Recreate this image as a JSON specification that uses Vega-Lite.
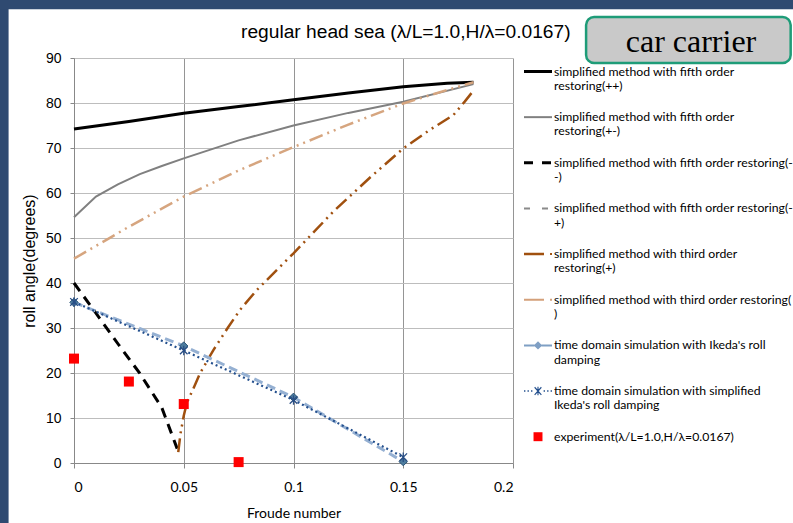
{
  "$schema": "https://vega.github.io/schema/vega-lite/v6.json",
  "width": 439,
  "height": 405,
  "autosize": {"type": "none"},
  "padding": {"left": 74, "top": 58, "right": 280, "bottom": 60},
  "background": "white",
  "config": {"view": {"stroke": null}},
  "title": {"text": "regular head sea (λ/L=1.0,H/λ=0.0167)", "anchor": "start", "frame": "group", "dx": 167, "dy": 49, "font": "Liberation Sans", "fontSize": 19.2, "fontWeight": "normal", "color": "#000", "offset": 7},
  "data": {"values": [
    {"s": "A", "fn": 0, "roll": 74.2}, {"s": "A", "fn": 0.025, "roll": 75.9}, {"s": "A", "fn": 0.05, "roll": 77.7}, {"s": "A", "fn": 0.075, "roll": 79.2}, {"s": "A", "fn": 0.1, "roll": 80.7}, {"s": "A", "fn": 0.125, "roll": 82.2}, {"s": "A", "fn": 0.15, "roll": 83.6}, {"s": "A", "fn": 0.17, "roll": 84.4}, {"s": "A", "fn": 0.182, "roll": 84.6},
    {"s": "B", "fn": 0, "roll": 54.6}, {"s": "B", "fn": 0.01, "roll": 59.2}, {"s": "B", "fn": 0.02, "roll": 61.9}, {"s": "B", "fn": 0.03, "roll": 64.2}, {"s": "B", "fn": 0.04, "roll": 66.0}, {"s": "B", "fn": 0.05, "roll": 67.7}, {"s": "B", "fn": 0.075, "roll": 71.7}, {"s": "B", "fn": 0.1, "roll": 75.0}, {"s": "B", "fn": 0.125, "roll": 77.8}, {"s": "B", "fn": 0.15, "roll": 80.3}, {"s": "B", "fn": 0.182, "roll": 84.2},
    {"s": "C", "fn": 0, "roll": 40.0}, {"s": "C", "fn": 0.01, "roll": 33.3}, {"s": "C", "fn": 0.02, "roll": 26.5}, {"s": "C", "fn": 0.03, "roll": 19.9}, {"s": "C", "fn": 0.04, "roll": 12.3}, {"s": "C", "fn": 0.047, "roll": 3.2},
    {"s": "E", "fn": 0.0475, "roll": 2.4}, {"s": "E", "fn": 0.0485, "roll": 6.5}, {"s": "E", "fn": 0.05, "roll": 10.5}, {"s": "E", "fn": 0.0515, "roll": 13.5}, {"s": "E", "fn": 0.055, "roll": 17.2}, {"s": "E", "fn": 0.0575, "roll": 20.0}, {"s": "E", "fn": 0.0635, "roll": 25.1}, {"s": "E", "fn": 0.07, "roll": 30.0}, {"s": "E", "fn": 0.0756, "roll": 34.0}, {"s": "E", "fn": 0.0832, "roll": 38.4}, {"s": "E", "fn": 0.1, "roll": 46.6}, {"s": "E", "fn": 0.118, "roll": 55.8}, {"s": "E", "fn": 0.135, "roll": 63.5}, {"s": "E", "fn": 0.15, "roll": 69.9}, {"s": "E", "fn": 0.162, "roll": 74.0}, {"s": "E", "fn": 0.1728, "roll": 77.3}, {"s": "E", "fn": 0.178, "roll": 80.3}, {"s": "E", "fn": 0.1824, "roll": 83.0},
    {"s": "F", "fn": 0, "roll": 45.4}, {"s": "F", "fn": 0.025, "roll": 52.5}, {"s": "F", "fn": 0.05, "roll": 59.2}, {"s": "F", "fn": 0.075, "roll": 65.0}, {"s": "F", "fn": 0.1, "roll": 70.2}, {"s": "F", "fn": 0.125, "roll": 75.2}, {"s": "F", "fn": 0.15, "roll": 79.9}, {"s": "F", "fn": 0.17, "roll": 82.9}, {"s": "F", "fn": 0.182, "roll": 84.6},
    {"s": "G", "fn": 0, "roll": 35.7}, {"s": "G", "fn": 0.05, "roll": 26.0}, {"s": "G", "fn": 0.1, "roll": 14.6}, {"s": "G", "fn": 0.15, "roll": 0.3},
    {"s": "H", "fn": 0, "roll": 35.8}, {"s": "H", "fn": 0.05, "roll": 25.0}, {"s": "H", "fn": 0.1, "roll": 14.0}, {"s": "H", "fn": 0.15, "roll": 1.3},
    {"s": "I", "fn": 0, "roll": 23.2}, {"s": "I", "fn": 0.025, "roll": 18.1}, {"s": "I", "fn": 0.05, "roll": 13.1}, {"s": "I", "fn": 0.075, "roll": 0.2}
  ]},
  "encoding": {
    "x": {"field": "fn", "type": "quantitative", "scale": {"domain": [0, 0.2], "nice": false, "zero": false},
      "axis": {"title": "Froude number", "values": [0, 0.05, 0.1, 0.15, 0.2], "format": "~g", "labelFont": "Lato", "labelFontSize": 14, "labelColor": "#000", "labelPadding": 12, "tickSize": 5, "tickColor": "#888", "domainColor": "#888", "gridColor": "#959595", "titleFont": "Lato", "titleFontSize": 14, "titleFontWeight": "normal", "titleColor": "#000", "titlePadding": 12}},
    "y": {"field": "roll", "type": "quantitative", "scale": {"domain": [0, 90], "nice": false},
      "axis": {"title": "roll angle(degrees)", "values": [0, 10, 20, 30, 40, 50, 60, 70, 80, 90], "labelFont": "Liberation Sans", "labelFontSize": 14, "labelColor": "#000", "labelPadding": 9, "tickSize": 4, "tickColor": "#888", "domainColor": "#888", "gridColor": "#bdbdbd", "titleFont": "Liberation Sans", "titleFontSize": 16, "titleFontWeight": "normal", "titleColor": "#000", "titlePadding": 8}}
  },
  "layer": [
    {"transform": [{"filter": "datum.s == 'I' && datum.fn == 0"}], "mark": {"type": "rect", "color": "#2f4a71"},
     "encoding": {"x": {"datum": -0.05, "type": "quantitative"}, "x2": {"datum": -0.0298}, "y": {"datum": -20, "type": "quantitative"}, "y2": {"datum": 102.9}}},
    {"transform": [{"filter": "datum.s == 'I' && datum.fn == 0"}], "mark": {"type": "rect", "color": "#2f4a71"},
     "encoding": {"x": {"datum": -0.05, "type": "quantitative"}, "x2": {"datum": 0.35}, "y": {"datum": 100.85, "type": "quantitative"}, "y2": {"datum": 102.9}}},
    {"transform": [{"filter": "datum.s == 'A'"}], "mark": {"type": "line", "color": "#000", "strokeWidth": 3}},
    {"transform": [{"filter": "datum.s == 'B'"}], "mark": {"type": "line", "color": "#808080", "strokeWidth": 2}},
    {"transform": [{"filter": "datum.s == 'C'"}], "mark": {"type": "line", "color": "#000", "strokeWidth": 3, "strokeDash": [10, 7]}},
    {"transform": [{"filter": "datum.s == 'E'"}], "mark": {"type": "line", "color": "#a0500f", "strokeWidth": 2.5, "strokeDash": [14, 5, 2, 5, 2, 5]}},
    {"transform": [{"filter": "datum.s == 'F'"}], "mark": {"type": "line", "color": "#d6a57f", "strokeWidth": 2.5, "strokeDash": [14, 5, 2, 5, 2, 5]}},
    {"transform": [{"filter": "datum.s == 'G'"}], "mark": {"type": "line", "color": "#95b0d2", "strokeWidth": 3, "strokeDash": [9, 5]}},
    {"transform": [{"filter": "datum.s == 'G'"}], "mark": {"type": "point", "shape": "diamond", "size": 70, "filled": true, "fill": "#4d7c9e", "stroke": "#2c5577", "strokeWidth": 1, "opacity": 1}},
    {"transform": [{"filter": "datum.s == 'H'"}], "mark": {"type": "line", "color": "#24508e", "strokeWidth": 2.2, "strokeDash": [2, 3]}},
    {"transform": [{"filter": "datum.s == 'H'"}], "mark": {"type": "point", "shape": "M0,-1L0,1M-0.8,-0.8L0.8,0.8M-0.8,0.8L0.8,-0.8", "size": 90, "filled": false, "stroke": "#2a4f85", "strokeWidth": 1.3, "opacity": 1}},
    {"transform": [{"filter": "datum.s == 'I'"}], "mark": {"type": "point", "shape": "square", "size": 100, "filled": true, "color": "#ff0000", "opacity": 1}},
    {"data": {"values": [
      {"series": "simplified method with fifth order|restoring(++)"},
      {"series": "simplified method with fifth order|restoring(+-)"},
      {"series": "simplified method with fifth order restoring(-|-)"},
      {"series": "simplified method with fifth order restoring(-|+)"},
      {"series": "simplified method with third order|restoring(+)"},
      {"series": "simplified method with third order restoring(|)"},
      {"series": "time domain simulation with Ikeda's roll|damping"},
      {"series": "time domain simulation with simplified|Ikeda's roll damping"},
      {"series": "experiment(λ/L=1.0,H/λ=0.0167)"}
     ]},
     "mark": {"type": "point", "filled": true, "opacity": 1},
     "encoding": {
       "color": {"field": "series", "type": "nominal",
         "scale": {"domain": [
           "simplified method with fifth order|restoring(++)",
           "simplified method with fifth order|restoring(+-)",
           "simplified method with fifth order restoring(-|-)",
           "simplified method with fifth order restoring(-|+)",
           "simplified method with third order|restoring(+)",
           "simplified method with third order restoring(|)",
           "time domain simulation with Ikeda's roll|damping",
           "time domain simulation with simplified|Ikeda's roll damping",
           "experiment(λ/L=1.0,H/λ=0.0167)"],
           "range": ["#000000", "#808080", "#000000", "#8a8a8a", "#a0500f", "#d4a07a", "#7f9fc4", "#24508e", "#ff0000"]},
         "legend": {"orient": "none", "legendX": 450, "legendY": -0.5, "title": null, "symbolSize": 784, "symbolStrokeWidth": 0, "labelFont": "Lato", "labelFontSize": 12.25, "labelColor": "#000", "labelOffset": 2, "labelLimit": 0, "rowPadding": 10.65, "padding": 0, "labelExpr": "split(datum.label, '|')", "encode": {"labels": {"update": {"lineHeight": {"value": 16.5}}}}}},
       "shape": {"field": "series", "type": "nominal",
         "scale": {"domain": [
           "simplified method with fifth order|restoring(++)",
           "simplified method with fifth order|restoring(+-)",
           "simplified method with fifth order restoring(-|-)",
           "simplified method with fifth order restoring(-|+)",
           "simplified method with third order|restoring(+)",
           "simplified method with third order restoring(|)",
           "time domain simulation with Ikeda's roll|damping",
           "time domain simulation with simplified|Ikeda's roll damping",
           "experiment(λ/L=1.0,H/λ=0.0167)"],
           "range": [
             "M-1,-0.107H1V0.107H-1Z",
             "M-1,-0.071H1V0.071H-1Z",
             "M-1,-0.107H-0.357V0.107H-1ZM0.286,-0.107H0.929V0.107H0.286Z",
             "M-1,-0.071H-0.571V0.071H-1ZM0.286,-0.071H0.714V0.071H0.286Z",
             "M-1,-0.09H0.429V0.09H-1ZM0.86,-0.07H1V0.07H0.86Z",
             "M-1,-0.071H0.429V0.071H-1ZM0.86,-0.07H1V0.07H0.86Z",
             "M-1,-0.071H-0.25V0.071H-1ZM0.25,-0.071H1V0.071H0.25ZM0,-0.3L0.3,0L0,0.3L-0.3,0Z",
             "M-1,-0.05H-0.9V0.05H-1ZM-0.75,-0.05H-0.65V0.05H-0.75ZM-0.5,-0.05H-0.4V0.05H-0.5ZM0.4,-0.05H0.5V0.05H0.4ZM0.65,-0.05H0.75V0.05H0.65ZM0.9,-0.05H1V0.05H0.9ZM-0.04,-0.3H0.04V0.3H-0.04ZM-0.27,-0.24L-0.21,-0.3L0.27,0.24L0.21,0.3ZM0.21,-0.3L0.27,-0.24L-0.21,0.3L-0.27,0.24Z",
             "M-0.32,-0.32H0.32V0.32H-0.32Z"]},
         "legend": {"orient": "none", "legendX": 450, "legendY": -0.5, "title": null, "symbolSize": 784, "symbolStrokeWidth": 0, "labelFont": "Lato", "labelFontSize": 12.25, "labelColor": "#000", "labelOffset": 2, "labelLimit": 0, "rowPadding": 10.65, "padding": 0, "labelExpr": "split(datum.label, '|')", "encode": {"labels": {"update": {"lineHeight": {"value": 16.5}}}}}}
     }},
    {"transform": [{"filter": "datum.s == 'I' && datum.fn == 0"}], "mark": {"type": "rect", "fill": "#c9c9c9", "stroke": "#1e9c78", "strokeWidth": 2.5, "cornerRadius": 8},
     "encoding": {"x": {"datum": 0.2333, "type": "quantitative"}, "x2": {"datum": 0.3265}, "y": {"datum": 99.1, "type": "quantitative"}, "y2": {"datum": 88.9}}},
    {"transform": [{"filter": "datum.s == 'I' && datum.fn == 0"}], "mark": {"type": "text", "text": "car carrier", "font": "Liberation Serif", "fontSize": 32, "align": "center", "baseline": "alphabetic", "color": "#000"},
     "encoding": {"x": {"datum": 0.2811, "type": "quantitative"}, "y": {"datum": 91.3, "type": "quantitative"}}}
  ]
}
